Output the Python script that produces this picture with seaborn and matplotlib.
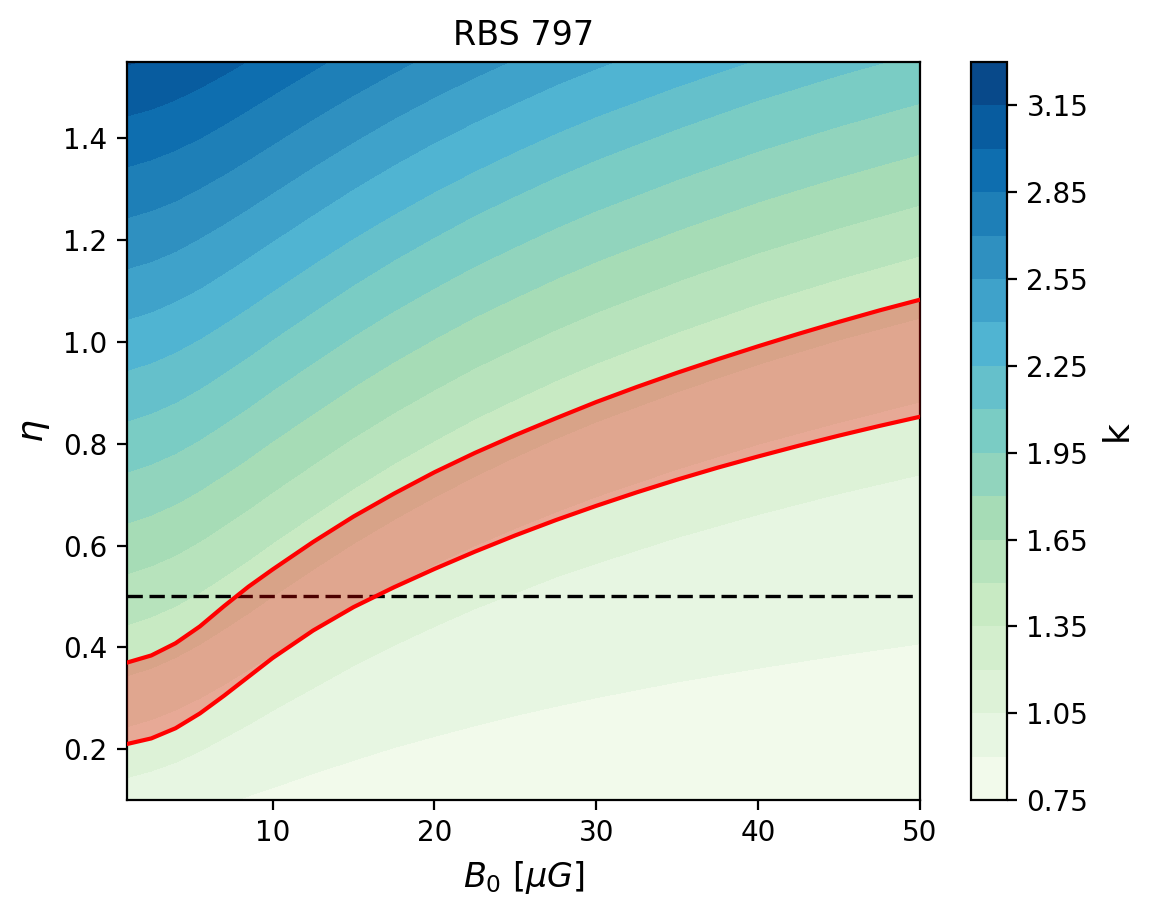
import numpy as np
import matplotlib
matplotlib.use("Agg")
import matplotlib.pyplot as plt
import seaborn as sns

# ---------------- data ----------------
# B0 columns (micro Gauss) at which the k contour positions were read
b0_cols = [1, 2.5, 4, 5.5, 7, 8.5, 10, 12.5, 15, 17.5, 20, 22.5, 25, 27.5, 30, 35, 40, 45, 50]

# contour levels of k
k_levels = [0.75, 0.90, 1.05, 1.20, 1.35, 1.50, 1.65, 1.80, 1.95,
            2.10, 2.25, 2.40, 2.55, 2.70, 2.85, 3.00, 3.15, 3.30]

# eta position of each k level along each B0 column (one row per level)
eta_at_level = [
    [-0.056, -0.054, -0.052, -0.050, -0.047, -0.043, -0.040, -0.034, -0.029, -0.024, -0.020, -0.016, -0.012, -0.008, -0.005, 0.002, 0.007, 0.012, 0.017],
    [0.044, 0.052, 0.063, 0.076, 0.091, 0.108, 0.124, 0.152, 0.178, 0.203, 0.225, 0.246, 0.266, 0.284, 0.301, 0.332, 0.359, 0.384, 0.407],
    [0.144, 0.157, 0.174, 0.196, 0.222, 0.248, 0.276, 0.320, 0.364, 0.404, 0.441, 0.476, 0.507, 0.538, 0.565, 0.616, 0.661, 0.702, 0.739],
    [0.244, 0.258, 0.277, 0.300, 0.327, 0.356, 0.385, 0.433, 0.480, 0.523, 0.563, 0.600, 0.634, 0.666, 0.696, 0.750, 0.799, 0.842, 0.882],
    [0.344, 0.359, 0.380, 0.406, 0.436, 0.467, 0.500, 0.553, 0.604, 0.651, 0.695, 0.736, 0.774, 0.810, 0.843, 0.902, 0.956, 1.004, 1.047],
    [0.444, 0.460, 0.481, 0.508, 0.539, 0.571, 0.605, 0.659, 0.712, 0.761, 0.806, 0.849, 0.887, 0.924, 0.958, 1.019, 1.075, 1.124, 1.169],
    [0.544, 0.560, 0.581, 0.608, 0.639, 0.671, 0.705, 0.759, 0.812, 0.861, 0.906, 0.949, 0.987, 1.024, 1.058, 1.119, 1.175, 1.224, 1.269],
    [0.644, 0.660, 0.681, 0.708, 0.739, 0.771, 0.805, 0.859, 0.912, 0.961, 1.006, 1.049, 1.087, 1.124, 1.158, 1.219, 1.275, 1.324, 1.369],
    [0.744, 0.760, 0.781, 0.808, 0.839, 0.871, 0.905, 0.959, 1.012, 1.061, 1.106, 1.149, 1.187, 1.224, 1.258, 1.319, 1.375, 1.424, 1.469],
    [0.844, 0.860, 0.881, 0.908, 0.939, 0.971, 1.005, 1.059, 1.112, 1.161, 1.206, 1.249, 1.287, 1.324, 1.358, 1.419, 1.475, 1.524, 1.569],
    [0.944, 0.959, 0.980, 1.006, 1.036, 1.067, 1.100, 1.153, 1.204, 1.251, 1.295, 1.336, 1.374, 1.410, 1.443, 1.502, 1.556, 1.604, 1.647],
    [1.044, 1.059, 1.080, 1.105, 1.135, 1.166, 1.198, 1.250, 1.301, 1.348, 1.392, 1.432, 1.469, 1.505, 1.537, 1.596, 1.649, 1.697, 1.740],
    [1.144, 1.158, 1.178, 1.204, 1.232, 1.262, 1.293, 1.344, 1.393, 1.439, 1.481, 1.520, 1.556, 1.590, 1.622, 1.679, 1.730, 1.776, 1.818],
    [1.244, 1.258, 1.277, 1.302, 1.329, 1.358, 1.388, 1.438, 1.485, 1.529, 1.570, 1.608, 1.643, 1.676, 1.707, 1.762, 1.811, 1.856, 1.897],
    [1.344, 1.358, 1.377, 1.400, 1.427, 1.456, 1.485, 1.533, 1.580, 1.623, 1.663, 1.700, 1.734, 1.766, 1.796, 1.850, 1.899, 1.942, 1.982],
    [1.444, 1.457, 1.476, 1.499, 1.525, 1.553, 1.582, 1.629, 1.674, 1.717, 1.755, 1.792, 1.825, 1.857, 1.886, 1.939, 1.986, 2.029, 2.068],
    [1.544, 1.557, 1.576, 1.599, 1.625, 1.653, 1.682, 1.729, 1.774, 1.817, 1.855, 1.892, 1.925, 1.957, 1.986, 2.039, 2.086, 2.129, 2.168],
    [1.644, 1.657, 1.676, 1.699, 1.725, 1.753, 1.782, 1.829, 1.874, 1.917, 1.955, 1.992, 2.025, 2.057, 2.086, 2.139, 2.186, 2.229, 2.268],
]

# red constraint band
b0_band = [1, 2.5, 4, 5.5, 7, 8.5, 10, 12.5, 15, 17.5, 20, 22.5, 25, 27.5, 30,
           32.5, 35, 37.5, 40, 42.5, 45, 47.5, 50]
eta_band_upper = [0.370, 0.384, 0.408, 0.441, 0.481, 0.519, 0.553, 0.607, 0.657, 0.702,
                  0.744, 0.782, 0.817, 0.850, 0.882, 0.9115, 0.9395, 0.966, 0.9915,
                  1.016, 1.0395, 1.062, 1.083]
eta_band_lower = [0.210, 0.221, 0.241, 0.270, 0.305, 0.342, 0.379, 0.433, 0.479, 0.518,
                  0.554, 0.588, 0.620, 0.650, 0.678, 0.7045, 0.7295, 0.753, 0.775,
                  0.796, 0.816, 0.835, 0.853]

eta_ref = 0.5
cbar_ticks = [0.75, 1.05, 1.35, 1.65, 1.95, 2.25, 2.55, 2.85, 3.15]

# ---------------- figure ----------------
plt.rcParams['font.family'] = ['DejaVu Sans']
fig = plt.figure(figsize=(1153 / 200, 917 / 200), dpi=200)
ax = fig.add_axes([127 / 1153, 1 - 800 / 917, (920 - 127) / 1153, (800 - 62) / 917])
cax = fig.add_axes([971 / 1153, 1 - 800 / 917, 36 / 1153, (800 - 62) / 917])

cmap = sns.color_palette("GnBu", as_cmap=True)

X = np.tile(np.asarray(b0_cols, float), (len(k_levels), 1))
Y = np.asarray(eta_at_level, float)
Z = np.repeat(np.asarray(k_levels, float)[:, None], len(b0_cols), axis=1)
cs = ax.contourf(X, Y, Z, levels=k_levels, cmap=cmap)

ax.axhline(eta_ref, color='black', lw=1.2, ls=(0, (4.6, 2.0)), zorder=3)

ax.fill_between(b0_band, eta_band_lower, eta_band_upper, color='red', alpha=0.3,
                lw=0, zorder=4)
sns.lineplot(x=b0_band, y=eta_band_upper, ax=ax, color='red', lw=1.5,
             estimator=None, sort=False, zorder=5)
sns.lineplot(x=b0_band, y=eta_band_lower, ax=ax, color='red', lw=1.5,
             estimator=None, sort=False, zorder=5)

ax.set_xlim(1, 50)
ax.set_ylim(0.1, 1.55)
ax.set_xticks([10, 20, 30, 40, 50])
ax.set_yticks([0.2, 0.4, 0.6, 0.8, 1.0, 1.2, 1.4])
ax.set_xlabel(r'$B_0$ [$\mu G$]', fontsize=12)
ax.set_ylabel(r'$\eta$', fontsize=13)
ax.set_title('RBS 797', fontsize=12)

cb = fig.colorbar(cs, cax=cax, ticks=cbar_ticks, format='%.2f')
cb.set_label('k', fontsize=13)

fig.savefig('out.png', dpi=200)
